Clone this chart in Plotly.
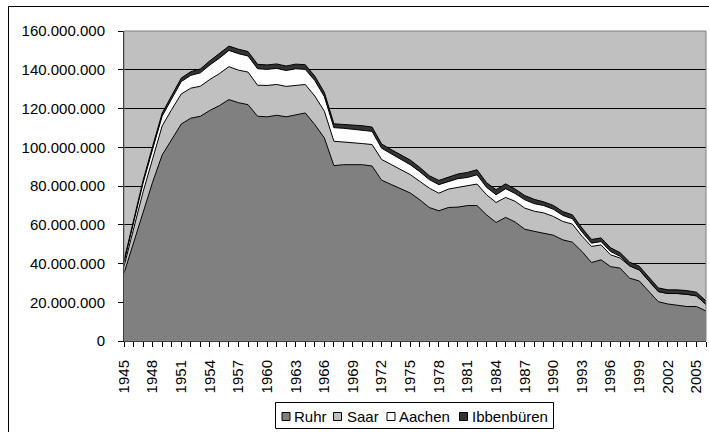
import plotly.graph_objects as go

years = list(range(1945, 2007))

ruhr_mt = [35, 51, 67, 82, 96, 104, 112, 115, 116, 119,
           121.5, 124.6, 123, 122, 116, 115.7, 116.5, 115.7, 116.9, 117.7,
           111.7, 104.8, 90.5, 91, 91, 91, 90.3, 83, 80.8, 78.6,
           76.4, 72.9, 68.9, 67.2, 68.9, 69.1, 69.9, 69.9, 65.1, 61.2,
           63.8, 61.4, 57.7, 56.6, 55.7, 54.6, 52.2, 51.0, 46.2, 40.5,
           41.9, 38.4, 37.6, 32.4, 31.0, 25.5, 20.3, 19.1, 18.6, 17.8,
           17.8, 15.5]
saar_mt = [3.5, 7, 10, 12, 15, 15.5, 15.5, 15.5, 15.5, 16,
           16.5, 17, 16.8, 16.8, 16, 16.2, 15.9, 15.7, 15.1, 14.7,
           14.7, 13.8, 12.6, 11.8, 11.2, 10.9, 11.1, 10.7, 10.3, 9.8,
           9.5, 9.5, 10.0, 9.1, 9.5, 10.2, 10.2, 11.1, 10.4, 10.3,
           10.3, 10.7, 10.9, 10.4, 10.4, 9.7, 9.5, 9.3, 7.9, 8.3,
           7.7, 6.1, 5.2, 6.4, 5.7, 5.5, 5.2, 5.4, 5.9, 6.3,
           5.5, 3.4]
aachen_mt = [2, 3.5, 4.5, 5, 5, 5.5, 6.4, 6.6, 6.9, 7.5,
             8, 8.4, 8.5, 8.3, 8.5, 8.3, 8.3, 8.2, 8.5, 7.8,
             8.0, 7.5, 7, 7, 7, 7, 6.8, 5.8, 5.5, 5.2,
             5.1, 5.0, 4.4, 4.4, 3.9, 4.5, 4.3, 4.8, 3.8, 4.0,
             4.5, 4.0, 4.3, 3.9, 3.8, 3.7, 3.1, 2.8, 2.2, 1.7,
             1.7, 1.7, 0.9, 0, 0, 0, 0, 0, 0, 0,
             0, 0]
ibbenbueren_mt = [1, 1.2, 1.4, 1.5, 1.6, 1.7, 1.8, 1.9, 2.0, 2.1,
                  2.2, 2.2, 2.3, 2.3, 2.3, 2.3, 2.3, 2.3, 2.4, 2.4,
                  2.3, 2.2, 2.0, 2.0, 2.1, 2.2, 2.2, 2.2, 2.2, 2.3,
                  2.4, 2.2, 2.0, 2.2, 2.4, 2.4, 2.6, 2.6, 2.4, 2.6,
                  2.5, 2.3, 2.2, 2.2, 1.9, 2.0, 2.0, 2.0, 2.0, 1.9,
                  1.9, 1.9, 1.9, 1.9, 1.9, 1.9, 1.9, 1.9, 1.9, 1.9,
                  1.9, 1.8]

series_names = ["Ruhr", "Saar", "Aachen", "Ibbenbüren"]
series_values = [ruhr_mt, saar_mt, aachen_mt, ibbenbueren_mt]
series_colors = ["#808080", "#C0C0C0", "#FFFFFF", "#333333"]

label_years = list(range(1945, 2006, 3))
label_text = [str(y) for y in label_years]

FONT = "Liberation Sans, Arial, sans-serif"
W, H = 709, 432
ML, MR, MT, MB = 124, 3, 31, 91
PW, PH = W - ML - MR, H - MT - MB


def px(x):
    return (x - ML) / PW


def py(y):
    return 1 - (y - MT) / PH


fig = go.Figure()
for name, vals, col in zip(series_names, series_values, series_colors):
    fig.add_trace(go.Scatter(
        x=years, y=[v * 1e6 for v in vals], name=name,
        stackgroup="one", mode="lines",
        line=dict(color="#000000", width=1),
        fillcolor=col, showlegend=False,
    ))

shapes = [
    # outer chart border (left and top edges)
    dict(type="line", xref="paper", yref="paper",
         x0=px(8.5), x1=px(8.5), y0=py(H), y1=py(6.5),
         line=dict(color="#000000", width=1)),
    dict(type="line", xref="paper", yref="paper",
         x0=px(8.5), x1=px(W), y0=py(6.5), y1=py(6.5),
         line=dict(color="#000000", width=1)),
    # plot area border
    dict(type="rect", xref="paper", yref="paper", x0=0, x1=1, y0=0, y1=1,
         line=dict(color="#808080", width=1)),
    # legend box
    dict(type="rect", xref="paper", yref="paper",
         x0=px(275.5), x1=px(553.5), y0=py(428.5), y1=py(402.5),
         line=dict(color="#000000", width=1), fillcolor="#FFFFFF"),
]
annotations = []
sq_x = [282, 333.5, 387, 459.5]
tx_x = [293, 345.5, 398, 470.5]
for name, col, sx, tx in zip(series_names, series_colors, sq_x, tx_x):
    shapes.append(dict(type="rect", xref="paper", yref="paper",
                       x0=px(sx), x1=px(sx + 8), y0=py(420.5), y1=py(412.5),
                       line=dict(color="#000000", width=1), fillcolor=col))
    annotations.append(dict(xref="paper", yref="paper", x=px(tx), y=py(416),
                            xanchor="left", yanchor="middle", text=name,
                            showarrow=False, borderpad=0,
                            font=dict(family=FONT, size=15, color="#000000")))

fig.update_layout(
    width=W, height=H,
    margin=dict(l=ML, r=MR, t=MT, b=MB, pad=0, autoexpand=False),
    paper_bgcolor="#FFFFFF", plot_bgcolor="#C0C0C0",
    separators=",.",
    font=dict(family=FONT, size=15, color="#000000"),
    showlegend=False,
    shapes=shapes, annotations=annotations,
    xaxis=dict(
        range=[1945, 2006], tickvals=label_years, ticktext=label_text,
        tickangle=-90, ticks="outside", ticklen=5, tickcolor="#000000",
        minor=dict(dtick=1, tick0=1945, ticks="outside", ticklen=5,
                   tickcolor="#000000", showgrid=False),
        showgrid=False, showline=True, linecolor="#000000", linewidth=1,
        zeroline=False, ticklabelstandoff=7, automargin=False,
        tickfont=dict(family=FONT, size=15, color="#000000"),
    ),
    yaxis=dict(
        range=[0, 160e6], dtick=20e6, tick0=0, tickformat=",d",
        ticks="outside", ticklen=5, tickcolor="#000000",
        showgrid=True, gridcolor="#000000", gridwidth=1,
        showline=True, linecolor="#000000", linewidth=1,
        zeroline=False, ticklabelstandoff=10, automargin=False,
        tickfont=dict(family=FONT, size=15, color="#000000"),
    ),
)

fig.write_html(
    "out.html",
    config={"displayModeBar": False},
    post_script="document.body.style.margin='0';document.body.style.padding='0';",
)
